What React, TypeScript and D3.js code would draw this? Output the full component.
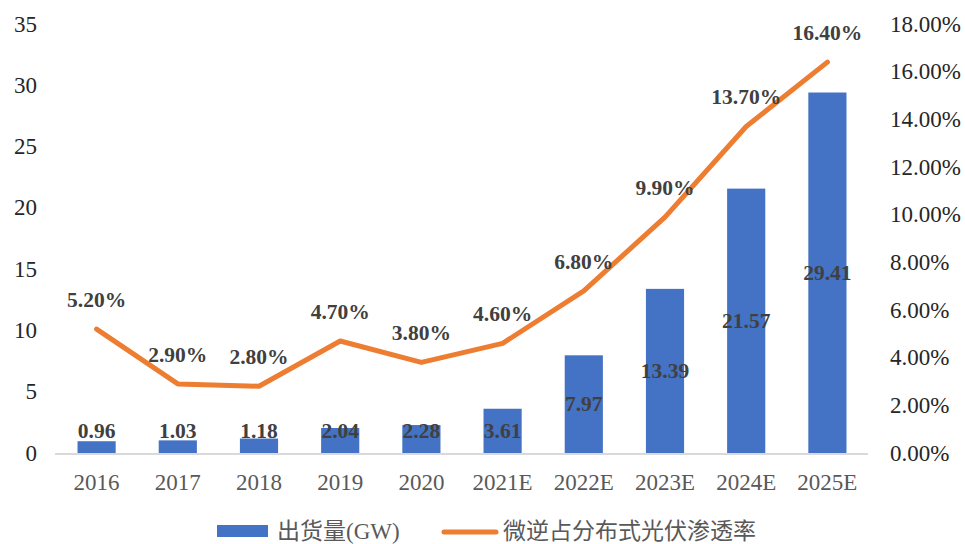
import React from "react";
import * as d3 from "d3";

const categories = ["2016", "2017", "2018", "2019", "2020", "2021E", "2022E", "2023E", "2024E", "2025E"];
const shipments = [0.96, 1.03, 1.18, 2.04, 2.28, 3.61, 7.97, 13.39, 21.57, 29.41];
const penetration = [5.2, 2.9, 2.8, 4.7, 3.8, 4.6, 6.8, 9.9, 13.7, 16.4];
const leftTicks = [0, 5, 10, 15, 20, 25, 30, 35];
const rightTicks = [0, 2, 4, 6, 8, 10, 12, 14, 16, 18];
const legendBar = "出货量(GW)";
const legendLine = "微逆占分布式光伏渗透率";

const W = 965;
const H = 544;
const plotLeft = 56;
const plotRight = 868;
const plotTop = 24;
const plotBottom = 453;

const BLUE = "#4472C4";
const ORANGE = "#ED7D31";
const FONT = "'Liberation Serif', 'Times New Roman', 'Noto Sans CJK SC', serif";

export default function App() {
  const x = d3.scaleBand<string>().domain(categories).range([plotLeft, plotRight]).paddingInner(0.53).paddingOuter(0.265);
  const yL = d3.scaleLinear().domain([0, 35]).range([plotBottom, plotTop]);
  const yR = d3.scaleLinear().domain([0, 18]).range([plotBottom, plotTop]);
  const cx = (c: string) => (x(c) as number) + x.bandwidth() / 2;

  const line = d3
    .line<number>()
    .x((_, i) => cx(categories[i]))
    .y((d) => yR(d));

  return (
    <div style={{ position: "absolute", left: 0, top: 0 }}>
      <svg width={W} height={H} style={{ display: "block", background: "#fff" }} fontFamily={FONT}>
        {/* left axis ticks */}
        {leftTicks.map((t) => (
          <text key={"l" + t} x={37} y={yL(t)} textAnchor="end" dominantBaseline="central" fontSize={23} fill="#262626">
            {t}
          </text>
        ))}
        {/* right axis ticks */}
        {rightTicks.map((t) => (
          <text key={"r" + t} x={890} y={yR(t)} textAnchor="start" dominantBaseline="central" fontSize={23} fill="#262626">
            {t.toFixed(2) + "%"}
          </text>
        ))}
        {/* bars */}
        {shipments.map((v, i) => (
          <rect key={"b" + i} x={x(categories[i])} y={yL(v)} width={x.bandwidth()} height={yL(0) - yL(v)} fill={BLUE} />
        ))}
        {/* axis line */}
        <line x1={plotLeft - 1} x2={plotRight} y1={plotBottom + 1} y2={plotBottom + 1} stroke="#D9D9D9" strokeWidth={2} />
        {/* x labels */}
        {categories.map((c) => (
          <text key={"x" + c} x={cx(c)} y={482} textAnchor="middle" dominantBaseline="central" fontSize={23} fill="#595959">
            {c}
          </text>
        ))}
        {/* line */}
        <path d={line(penetration) || ""} fill="none" stroke={ORANGE} strokeWidth={5} strokeLinejoin="round" strokeLinecap="round" />
        {/* bar labels */}
        {shipments.map((v, i) => (
          <text
            key={"bl" + i}
            x={cx(categories[i])}
            y={Math.min(yL(v / 2), plotBottom - 22)}
            textAnchor="middle"
            dominantBaseline="central"
            fontSize={21.5}
            fontWeight="bold"
            fill="#404040"
          >
            {v.toFixed(2)}
          </text>
        ))}
        {/* line labels */}
        {penetration.map((v, i) => (
          <text
            key={"ll" + i}
            x={cx(categories[i])}
            y={yR(v) - 29}
            textAnchor="middle"
            dominantBaseline="central"
            fontSize={21.5}
            fontWeight="bold"
            fill="#404040"
          >
            {v.toFixed(2) + "%"}
          </text>
        ))}
        {/* legend */}
        <rect x={217} y={525} width={51} height={12} fill={BLUE} />
        <text x={277} y={531} dominantBaseline="central" fontSize={23} fill="#595959">
          {legendBar}
        </text>
        <line x1={444} x2={496} y1={532} y2={532} stroke={ORANGE} strokeWidth={5} strokeLinecap="round" />
        <text x={503} y={531} dominantBaseline="central" fontSize={23} fill="#595959">
          {legendLine}
        </text>
      </svg>
    </div>
  );
}
